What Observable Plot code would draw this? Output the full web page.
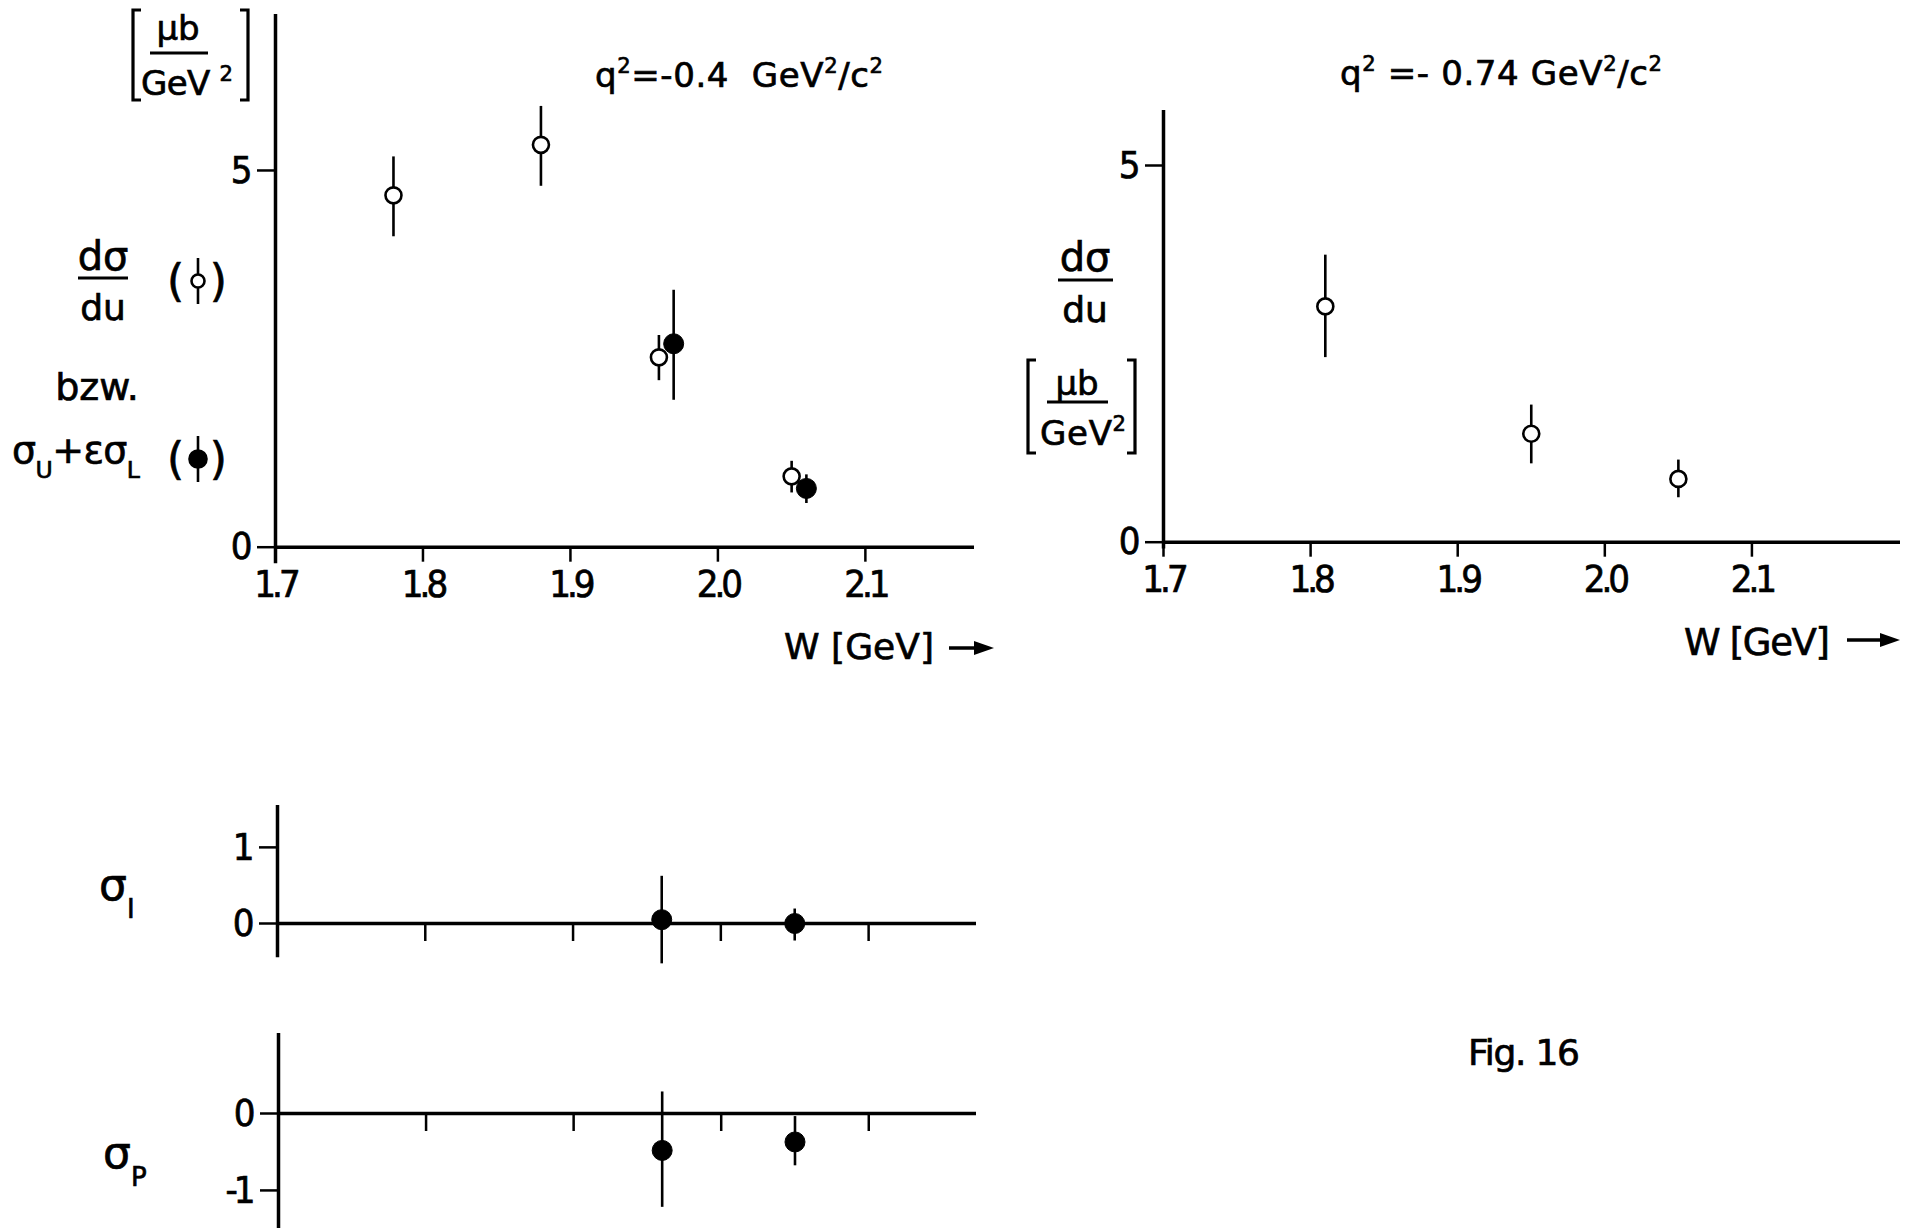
<!DOCTYPE html>
<html><head><meta charset="utf-8">
<script src="https://cdn.jsdelivr.net/npm/d3@7"></script>
<script src="https://cdn.jsdelivr.net/npm/@observablehq/plot@0.6"></script>
<style>
html,body{margin:0;padding:0;background:#fff;}
#root{position:relative;width:1910px;height:1228px;overflow:hidden;background:#fff;}
.ov text{white-space:pre;stroke:#000;stroke-width:0.7px;}
#root svg.plotsvg text{letter-spacing:-4px;stroke:#000;stroke-width:0.7px;}
</style></head><body><div id="root"></div>
<script>
const FONT = '"DejaVu Sans Condensed","DejaVu Sans",sans-serif';
const FONT_LABEL = '"DejaVu Sans",sans-serif';

// ---- data ----
const wTicks = [1.7, 1.8, 1.9, 2.0, 2.1];
const yTicksTop = [0, 5];
// q^2 = -0.4 : dσ/du (open circles)
const wOpenA = [1.78, 1.88, 1.96, 2.05];
const valOpenA = [4.67, 5.34, 2.52, 0.94];
const loOpenA = [4.12, 4.79, 2.21, 0.72];
const hiOpenA = [5.18, 5.85, 2.81, 1.14];
// q^2 = -0.4 : σU+εσL (filled circles)
const wFillA = [1.97, 2.06];
const valFillA = [2.70, 0.78];
const loFillA = [1.95, 0.58];
const hiFillA = [3.41, 0.96];
// q^2 = -0.74 : dσ/du
const wOpenB = [1.81, 1.95, 2.05];
const valOpenB = [3.13, 1.44, 0.84];
const loOpenB = [2.45, 1.04, 0.59];
const hiOpenB = [3.81, 1.82, 1.09];
// σI
const wI = [1.96, 2.05];
const valI = [0.05, 0.00];
const loI = [-0.53, -0.23];
const hiI = [0.62, 0.19];
const yTicksI = [0, 1];
// σP
const wP = [1.96, 2.05];
const valP = [-0.48, -0.37];
const loP = [-1.22, -0.68];
const hiP = [0.28, -0.04];
const yTicksP = [-1, 0];

const rows = (w, v, lo, hi) => w.map((x, i) => ({W: x, v: v[i], lo: lo[i], hi: hi[i]}));
const root = document.getElementById("root");

function panel(o) {
  const marks = [
    Plot.ruleY([0], {x1: 1.7, x2: o.xMax, strokeWidth: 3.5}),
    Plot.ruleX([1.7], {y1: o.yMin, y2: o.yMax, strokeWidth: 3.5}),
    Plot.axisX(wTicks, {tickSize: o.tick, tickPadding: 8, strokeWidth: 2.5, tickFormat: d => d.toFixed(1),
      fill: o.xLabels ? "black" : "none", label: null, fontSize: 38}),
    Plot.axisY(o.yTicks, {tickSize: 18, tickPadding: 9, strokeWidth: 2.5, label: null, fontSize: 38,
      tickFormat: d => String(d)})
  ];
  for (const s of o.series) {
    marks.push(Plot.ruleX(s.data, {x: "W", y1: "lo", y2: "hi", strokeWidth: 2.6}));
    marks.push(Plot.dot(s.data, {x: "W", y: "v", r: s.open ? 8 : 10,
      fill: s.open ? "white" : "black", stroke: "black", strokeWidth: s.open ? 2.6 : 1}));
  }
  const svg = Plot.plot({
    width: o.width, height: o.height,
    marginLeft: o.mL, marginRight: o.mR, marginTop: o.mT, marginBottom: o.mB,
    x: {domain: [1.7, o.xMax], label: null},
    y: {domain: [0, o.yMax], label: null},
    style: {fontFamily: FONT, fontSize: "38px", color: "black", background: "transparent"},
    marks
  });
  svg.classList.add("plotsvg");
  svg.style.position = "absolute";
  svg.style.left = o.left + "px";
  svg.style.top = o.top + "px";
  svg.style.maxWidth = "none";
  root.appendChild(svg);
}

panel({left: 0, top: 0, width: 1000, height: 700, mL: 275, mR: 26, mT: 14, mB: 153.3,
  xMax: 2.174, yMax: 7.07, yMin: -0.22, yTicks: yTicksTop, xLabels: true, tick: 15,
  series: [{data: rows(wOpenA, valOpenA, loOpenA, hiOpenA), open: true},
           {data: rows(wFillA, valFillA, loFillA, hiFillA), open: false}]});
panel({left: 1000, top: 0, width: 910, height: 700, mL: 163, mR: 10, mT: 110, mB: 158.3,
  xMax: 2.201, yMax: 5.73, yMin: -0.09, yTicks: yTicksTop, xLabels: true, tick: 15,
  series: [{data: rows(wOpenB, valOpenB, loOpenB, hiOpenB), open: true}]});
panel({left: 0, top: 780, width: 1000, height: 200, mL: 277, mR: 24, mT: 25, mB: 57,
  xMax: 2.173, yMax: 1.55, yMin: -0.45, yTicks: yTicksI, xLabels: false, tick: 18,
  series: [{data: rows(wI, valI, loI, hiI), open: false}]});
panel({left: 0, top: 980, width: 1000, height: 248, mL: 278, mR: 24, mT: 53, mB: 115,
  xMax: 2.173, yMax: 1.04, yMin: -1.6, yTicks: yTicksP, xLabels: false, tick: 18,
  series: [{data: rows(wP, valP, loP, hiP), open: false}]});

// ---- annotation overlay ----
const ov = d3.select(root).append("svg").attr("class", "ov")
  .attr("width", 1910).attr("height", 1228)
  .style("position", "absolute").style("left", "0px").style("top", "0px")
  .attr("font-family", FONT_LABEL).attr("fill", "black");

function label(x, y, parts, size, anchor = "start", width = null) {
  const t = ov.append("text").attr("x", x).attr("y", y).attr("font-size", size).attr("text-anchor", anchor);
  let shift = 0;
  for (const p of parts) {
    const [s, kind, ks] = typeof p === "string" ? [p, "n"] : p;
    const target = kind === "sup" ? -size * 0.42 : kind === "sub" ? size * 0.4 : 0;
    t.append("tspan").attr("dy", target - shift)
      .attr("font-size", kind === "n" ? size : (ks || size * 0.62)).text(s);
    shift = target;
  }
  if (width) {
    const node = t.node();
    const n = node.getNumberOfChars();
    const cur = node.getComputedTextLength();
    if (n > 1) t.attr("letter-spacing", (width - cur) / (n - 1));
  }
  return t;
}
function line(x1, y1, x2, y2, w = 3) {
  ov.append("line").attr("x1", x1).attr("y1", y1).attr("x2", x2).attr("y2", y2)
    .attr("stroke", "black").attr("stroke-width", w);
}
function bracket(x1, x2, y1, y2) {
  ov.append("path").attr("d", `M${x1 + 8},${y1}H${x1}V${y2}H${x1 + 8}`).attr("fill", "none").attr("stroke", "black").attr("stroke-width", 3.2);
  ov.append("path").attr("d", `M${x2 - 8},${y1}H${x2}V${y2}H${x2 - 8}`).attr("fill", "none").attr("stroke", "black").attr("stroke-width", 3.2);
}
function arrow(x1, x2, y) {
  line(x1, y, x2 - 14, y, 3.5);
  ov.append("path").attr("d", `M${x2 - 20},${y - 7}L${x2},${y}L${x2 - 20},${y + 7}Z`).attr("fill", "black");
}
function sym(cx, cy, filled) {
  line(cx, cy - 23, cx, cy + 23, 2.6);
  ov.append("circle").attr("cx", cx).attr("cy", cy).attr("r", filled ? 8.5 : 6.5)
    .attr("fill", filled ? "black" : "white").attr("stroke", "black").attr("stroke-width", 2.6);
}

// left unit label
bracket(133, 248, 10, 100);
label(178, 40, ["μb"], 34, "middle");
line(150, 53, 208, 53);
label(141, 95, ["GeV ", ["2", "sup"]], 34, "start", 92);

// left y label / legend
label(103, 270, ["dσ"], 40, "middle");
line(78, 278, 128, 278);
label(103, 320, ["du"], 36, "middle");
label(167, 296, ["("], 44);
label(227, 296, [")"], 44, "end");
sym(198, 281, false);
label(97, 400, ["bzw."], 38, "middle");
label(12, 463, ["σ", ["U", "sub"], "+εσ", ["L", "sub"]], 38, "start", 128);
label(167, 474, ["("], 44);
label(227, 474, [")"], 44, "end");
sym(198, 459, true);

// titles
label(595, 87, ["q", ["2", "sup"], "=-0.4  GeV", ["2", "sup"], "/c", ["2", "sup"]], 34, "start", 288);
label(1340, 85, ["q", ["2", "sup"], " =- 0.74 GeV", ["2", "sup"], "/c", ["2", "sup"]], 34, "start", 322);

// x labels
label(784, 659, ["W [GeV]"], 36, "start", 150);
arrow(949, 994, 648);
label(1684, 655, ["W [GeV]"], 37, "start", 146);
arrow(1847, 1900, 640);

// right y label
label(1085, 271, ["dσ"], 40, "middle");
line(1058, 280, 1113, 280);
label(1085, 322, ["du"], 36, "middle");
bracket(1028, 1135, 360, 453);
label(1077, 395, ["μb"], 34, "middle");
line(1047, 402, 1108, 402);
label(1040, 445, ["GeV", ["2", "sup"]], 34, "start", 86);

// lower panel labels
label(99, 900, ["σ", ["I", "sub", 26]], 44);
label(103, 1168, ["σ", ["P", "sub", 26]], 44);

// figure caption
label(1468, 1065, ["Fig. 16"], 36, "start", 112);
</script></body></html>
